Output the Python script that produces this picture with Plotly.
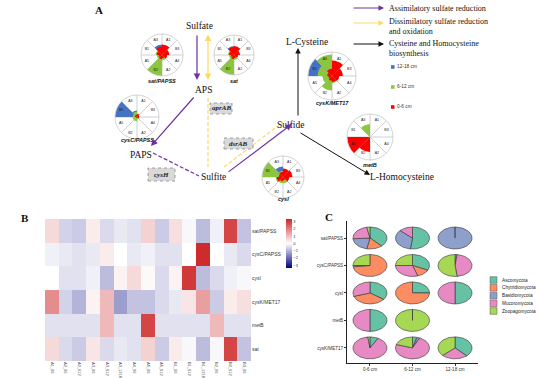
import plotly.graph_objects as go
import numpy as np

W, H = 540, 378

# ---------------- DATA ----------------
depths = ["12-18 cm", "6-12 cm", "0-6 cm"]
depth_colors = ["#4472C4", "#8CC63F", "#FF0000"]
sectors = ["A1", "B3", "A4", "A2", "B2", "A5", "B1", "A3"]

polar_genes = ["sat/PAPSS", "sat", "cysC/PAPSS", "cysI", "cysK/MET17", "metB"]
polar_12_18 = {
    "sat/PAPSS":  [0.10, 0, 0, 0, 0, 0, 0.10, 0.50],
    "sat":        [0.10, 0, 0, 0, 0, 0, 0.10, 0.45],
    "cysC/PAPSS": [0.10, 0, 0, 0, 0, 0, 1.00, 0.30],
    "cysI":       [0.30, 0, 0, 0, 0, 0, 0.30, 0.50],
    "cysK/MET17": [0.30, 0, 0, 0, 0, 0, 1.00, 0.50],
    "metB":       [0, 0, 0, 0, 0, 0, 0, 0],
}
polar_6_12 = {
    "sat/PAPSS":  [0.30, 0.25, 0.20, 0.25, 1.00, 0.25, 0.30, 0.35],
    "sat":        [0.30, 0.25, 0.20, 0.25, 1.00, 0.25, 0.30, 0.30],
    "cysC/PAPSS": [0.10, 0.10, 0.10, 0.10, 0.20, 0.20, 0.20, 0.25],
    "cysI":       [0.20, 0.30, 0.30, 0.30, 0.30, 0.35, 1.00, 0.30],
    "cysK/MET17": [0.30, 0.20, 0.20, 0.30, 0.60, 0.40, 0.60, 0.90],
    "metB":       [0, 0, 0, 0, 0, 0, 0, 0.55],
}
polar_0_6 = {
    "sat/PAPSS":  [0.50, 0.35, 0.25, 0.15, 0.20, 0.15, 0.25, 0.40],
    "sat":        [0.45, 0.30, 0.20, 0.15, 0.20, 0.15, 0.25, 0.40],
    "cysC/PAPSS": [0.15, 0.10, 0.10, 0.05, 0.05, 0.05, 0.10, 0.10],
    "cysI":       [0.40, 0.45, 0.30, 0.15, 0.20, 0.30, 0.20, 0.25],
    "cysK/MET17": [0.65, 0.45, 0.30, 0.25, 0.20, 0.15, 0.20, 0.30],
    "metB":       [0, 0, 0, 0, 0.65, 1.00, 0, 0],
}

hm_samples = ["A1_06", "A2_06", "A2_612", "A3_06", "A3_612", "A3_1218", "A4_06",
              "A5_06", "A5_612", "B1_06", "B1_612", "B1_1218", "B2_06", "B2_612", "B3_06"]
hm_genes = ["sat/PAPSS", "cysC/PAPSS", "cysI", "cysK/MET17", "metB", "sat"]
hm_values = [
    [0.6, -0.6, -0.7, 0.3, -0.5, -0.3, -0.4, 0.7, -0.7, 0.5, -0.1, -0.9, -0.2, 2.9, -0.8],
    [-0.2, -0.3, -0.4, -0.3, 0.3, 0.0, -0.3, -0.2, -0.4, -0.4, 0.0, 3.3, 0.0, -0.3, -0.5],
    [0.0, -0.4, -0.4, -0.2, -0.9, 0.2, 0.6, 0.1, -0.5, 0.2, 3.1, -0.9, -0.5, -0.2, -0.1],
    [1.8, -0.6, -1.0, 0.2, 1.1, -1.3, -0.8, -0.8, -0.5, -0.3, 0.4, 1.5, -0.7, 0.3, 0.5],
    [-0.4, -0.4, -0.4, -0.4, 1.1, -0.4, -0.4, 2.9, -0.4, -0.4, -0.4, -0.4, 1.1, -0.4, -0.4],
    [0.6, -0.5, -0.7, 0.4, -0.5, -0.3, -0.4, 0.7, -0.7, 0.3, -0.1, -0.9, -0.1, 2.9, -0.8],
]

phyla = ["Ascomycota", "Chytridiomycota", "Basidiomycota", "Mucoromycota", "Zoopagomycota"]
phyla_colors = ["#66C2A5", "#FC8D62", "#8DA0CB", "#E78AC3", "#A6D854"]
pie_genes = ["sat/PAPSS", "cysC/PAPSS", "cysI", "metB", "cysK/MET17"]
pie_depths = ["0-6 cm", "6-12 cm", "12-18 cm"]
# fractions [Asco, Chytrid, Basidio, Mucoro, Zoopago] per gene per depth
pie_values = {
    "sat/PAPSS":  [[0.38, 0.15, 0.21, 0.23, 0.03], [0.52, 0, 0.35, 0.13, 0], [0, 0, 1, 0, 0]],
    "cysC/PAPSS": [[0, 0.73, 0.02, 0, 0.25], [0.32, 0.13, 0, 0.30, 0.25], [0, 0, 0.02, 0.46, 0.52]],
    "cysI":       [[0.35, 0.35, 0, 0.30, 0], [0.25, 0.75, 0, 0, 0], [0.5, 0, 0, 0.5, 0]],
    "metB":       [[0.5, 0, 0, 0.5, 0], [0, 0, 0, 0, 1], None],
    "cysK/MET17": [[0.08, 0, 0, 0.90, 0.02], [0.04, 0, 0.03, 0.73, 0.20], [0.38, 0, 0, 0.25, 0.37]],
}

# ---------------- helpers ----------------
def px(x):
    return x / W

def py(y):
    return 1 - y / H

fig = go.Figure()
annotations = []
shapes = []

SERIF = "Liberation Serif, Times New Roman, serif"
SANS = "Liberation Sans, Arial, sans-serif"

def label(text, x, y, size, family, color="#111", xanchor="center", align="center"):
    annotations.append(dict(x=px(x), y=py(y), xref="paper", yref="paper", text=text,
                            showarrow=False, xanchor=xanchor, yanchor="middle", align=align,
                            font=dict(size=size, family=family, color=color)))

# ---------------- Panel A: polar charts ----------------
polar_pos = {
    "sat/PAPSS": (162, 55, 21, 81),
    "sat": (234, 55, 20, 81),
    "cysC/PAPSS": (137, 117, 22, 140),
    "cysI": (283, 177, 21, 199),
    "cysK/MET17": (332, 76, 24, 103),
    "metB": (370, 137, 23, 165),
}
theta_centers = [22.5 + 45 * k for k in range(8)]
series = [polar_12_18, polar_6_12, polar_0_6]
for i, g in enumerate(polar_genes):
    sp = "polar" if i == 0 else f"polar{i+1}"
    cx, cy, r, ly = polar_pos[g]
    for d, s in enumerate(series):
        fig.add_trace(go.Barpolar(
            r=s[g], theta=theta_centers, width=[45] * 8,
            marker=dict(color=depth_colors[d], line=dict(width=0)),
            subplot=sp, showlegend=False, name=depths[d]))
    fig.add_trace(go.Scatterpolar(
        r=[0.78] * 8, theta=theta_centers, mode="text", text=sectors,
        textfont=dict(size=3.6, color="#222", family=SANS),
        subplot=sp, showlegend=False))
    fig.layout[sp] = dict(
        domain=dict(x=[px(cx - r), px(cx + r)], y=[py(cy + r), py(cy - r)]),
        bgcolor="rgba(0,0,0,0)", barmode="overlay", bargap=0, hole=0,
        angularaxis=dict(direction="clockwise", rotation=90,
                         tickvals=[45 * k for k in range(8)], showticklabels=False,
                         ticks="", gridcolor="#d0d0d0", gridwidth=0.6,
                         linecolor="#c8c8c8", linewidth=0.8),
        radialaxis=dict(range=[0, 1], showticklabels=False, ticks="",
                        showline=False, showgrid=False))
    label(f"<b><i>{g}</i></b>", cx, ly, 5.5, SANS)

# pathway texts
nodes = [("Sulfate", 199, 26), ("APS", 203, 90), ("PAPS", 141, 155),
         ("Sulfite", 213, 177), ("Sulfide", 290, 125), ("L-Cysteine", 307, 42),
         ("L-Homocysteine", 402, 177)]
for t, x, y in nodes:
    label(t, x, y, 9.5, SERIF)

PURPLE = "#7030A0"
YELLOW = "#FFD966"
BLACK = "#111111"

def arrow(p0, p1, color, both=False, width=1.2):
    annotations.append(dict(x=px(p1[0]), y=py(p1[1]), ax=p0[0] - p1[0], ay=p0[1] - p1[1],
                            xref="paper", yref="paper", axref="pixel", ayref="pixel",
                            text="", showarrow=True, arrowhead=2, arrowsize=1.1,
                            arrowwidth=width, arrowcolor=color, standoff=0, startstandoff=0,
                            arrowside="end+start" if both else "end", startarrowhead=2,
                            startarrowsize=1.1))

def dashed_arrow(p0, p1, color, both=False, width=1.2):
    shapes.append(dict(type="line", xref="paper", yref="paper",
                       x0=px(p0[0]), y0=py(p0[1]), x1=px(p1[0]), y1=py(p1[1]),
                       line=dict(color=color, width=width, dash="4px,2px")))
    v = np.array(p1, float) - np.array(p0, float)
    u = v / np.linalg.norm(v)
    ends = [(p1, u)] + ([(p0, -u)] if both else [])
    for tip, uu in ends:
        back = np.array(tip, float) - uu * 3
        annotations.append(dict(x=px(tip[0]), y=py(tip[1]), ax=back[0] - tip[0], ay=back[1] - tip[1],
                                xref="paper", yref="paper", axref="pixel", ayref="pixel",
                                text="", showarrow=True, arrowhead=2, arrowsize=1.1,
                                arrowwidth=width, arrowcolor=color, standoff=0))

arrow((197, 34), (197, 80), PURPLE)
arrow((208, 33), (208, 80), YELLOW, both=True)
dashed_arrow((208, 98), (208, 167), YELLOW, both=True)
arrow((195, 96), (151, 146), PURPLE)
dashed_arrow((153, 153), (199, 176), PURPLE)
arrow((227, 173), (292, 124), PURPLE)
dashed_arrow((224, 167), (283, 122), YELLOW, both=True)
arrow((298, 117), (298, 48), BLACK, width=1.0)
arrow((299, 132), (370, 175), BLACK, width=1.0)

# enzyme boxes
boxes = [("aprAB", 210, 103, 232, 114), ("dsrAB", 224, 138, 253, 149), ("cysH", 148, 168, 175, 181)]
for t, x0, y0, x1, y1 in boxes:
    shapes.append(dict(type="rect", xref="paper", yref="paper", x0=px(x0), x1=px(x1),
                       y0=py(y1), y1=py(y0), fillcolor="#d9d9d9",
                       line=dict(color="#8c8c8c", width=0.8, dash="dot")))
    label(f"<b><i>{t}</i></b>", (x0 + x1) / 2, (y0 + y1) / 2, 7, SERIF, "#222")

# pathway legend
leg = [(PURPLE, 8, "Assimilatory sulfate reduction"),
       (YELLOW, 23, "Dissimilatory sulfate reduction<br>and oxidation"),
       (BLACK, 44, "Cysteine and Homocysteine<br>biosynthesis")]
for c, y, t in leg:
    arrow((352, y), (384, y), c, width=1.0)
    label(t, 387, y + (4 if "<br>" in t else 0), 8, SERIF, xanchor="left", align="left")

# depth legend
for d, c, y in zip(depths, depth_colors, [67, 87, 107]):
    shapes.append(dict(type="rect", xref="paper", yref="paper", x0=px(391), x1=px(394.5),
                       y0=py(y + 1.8), y1=py(y - 1.8), fillcolor=c, line=dict(width=0)))
    label(d, 395, y, 4.8, SANS, "#333", xanchor="left")

# panel labels
for t, x, y in [("A", 99, 10), ("B", 25, 218), ("C", 329, 217)]:
    label(f"<b>{t}</b>", x, y, 11, SERIF)

# ---------------- Panel B: heatmap ----------------
fig.add_trace(go.Heatmap(
    z=hm_values, x=hm_samples, y=hm_genes, xaxis="x2", yaxis="y2",
    zmin=-3.4, zmax=3.4,
    colorscale=[[0, "#000080"], [0.5, "#FFFFFF"], [1, "#CD2626"]],
    colorbar=dict(x=px(286), xanchor="left", y=py(243.5), yanchor="middle",
                  len=49 / H, lenmode="fraction", thickness=6, outlinewidth=0,
                  tickvals=[3, 2, 1, 0, -1, -2, -3], ticks="", ticklen=0,
                  tickfont=dict(size=4, family=SANS, color="#333"), xpad=0, ypad=0),
    showscale=True, hoverinfo="skip"))

# ---------------- Panel C: pies ----------------
R = 0.4
for k, ph in enumerate(phyla):
    xs, ys = [], []
    for gi, g in enumerate(pie_genes):
        yc = len(pie_genes) - gi
        for di in range(3):
            vals = pie_values[g][di]
            if vals is None:
                continue
            xc = di + 1
            start = sum(vals[:k]) / sum(vals)
            frac = vals[k] / sum(vals)
            if frac <= 0:
                continue
            th = np.linspace(start, start + frac, max(8, int(frac * 90))) * 2 * np.pi
            px_ = [xc] + list(xc + R * np.sin(th)) + [xc]
            py_ = [yc] + list(yc + R * np.cos(th)) + [yc]
            xs += px_ + [None]
            ys += py_ + [None]
    fig.add_trace(go.Scatter(x=xs, y=ys, xaxis="x3", yaxis="y3", mode="lines",
                             fill="toself", fillcolor=phyla_colors[k],
                             line=dict(color="#333333", width=0.6),
                             showlegend=False, hoverinfo="skip", name=ph))

# pie legend
for k, (ph, c) in enumerate(zip(phyla, phyla_colors)):
    yc = 280 + 7.75 * k
    shapes.append(dict(type="rect", xref="paper", yref="paper", x0=px(490), x1=px(497),
                       y0=py(yc + 3.3), y1=py(yc - 3.3), fillcolor=c,
                       line=dict(color="#555", width=0.5)))
    label(ph, 500, yc, 4.7, SANS, "#222", xanchor="left")

fig.update_layout(
    width=W, height=H, autosize=False,
    margin=dict(l=0, r=0, t=0, b=0),
    paper_bgcolor="white", plot_bgcolor="white",
    showlegend=False,
    annotations=annotations, shapes=shapes,
    xaxis2=dict(domain=[px(45), px(251)], anchor="y2", tickangle=90, ticks="",
                tickfont=dict(size=4, family=SANS, color="#444"), showgrid=False,
                zeroline=False, showline=False),
    yaxis2=dict(domain=[py(361), py(219)], anchor="x2", side="right", autorange="reversed",
                ticks="", tickfont=dict(size=5, family=SANS, color="#333"),
                showgrid=False, zeroline=False, showline=False),
    xaxis3=dict(domain=[px(347), px(478)], anchor="y3", range=[0.46, 3.54],
                tickvals=[1, 2, 3], ticktext=pie_depths, ticks="outside", ticklen=2,
                tickwidth=0.6, tickcolor="#333",
                tickfont=dict(size=4.6, family=SANS, color="#333"),
                showline=True, linecolor="#222", linewidth=0.8, showgrid=False, zeroline=False),
    yaxis3=dict(domain=[py(363), py(221)], anchor="x3", range=[0.45, 5.62],
                tickvals=[5, 4, 3, 2, 1], ticktext=pie_genes, ticks="outside", ticklen=2,
                tickwidth=0.6, tickcolor="#333",
                tickfont=dict(size=4.6, family=SANS, color="#333"),
                showline=True, linecolor="#222", linewidth=0.8, showgrid=False, zeroline=False),
    xaxis=dict(visible=False), yaxis=dict(visible=False),
)

fig.write_html("out.html", config={"displayModeBar": False},
               post_script="document.body.style.margin='0px';document.body.style.overflow='hidden';")
